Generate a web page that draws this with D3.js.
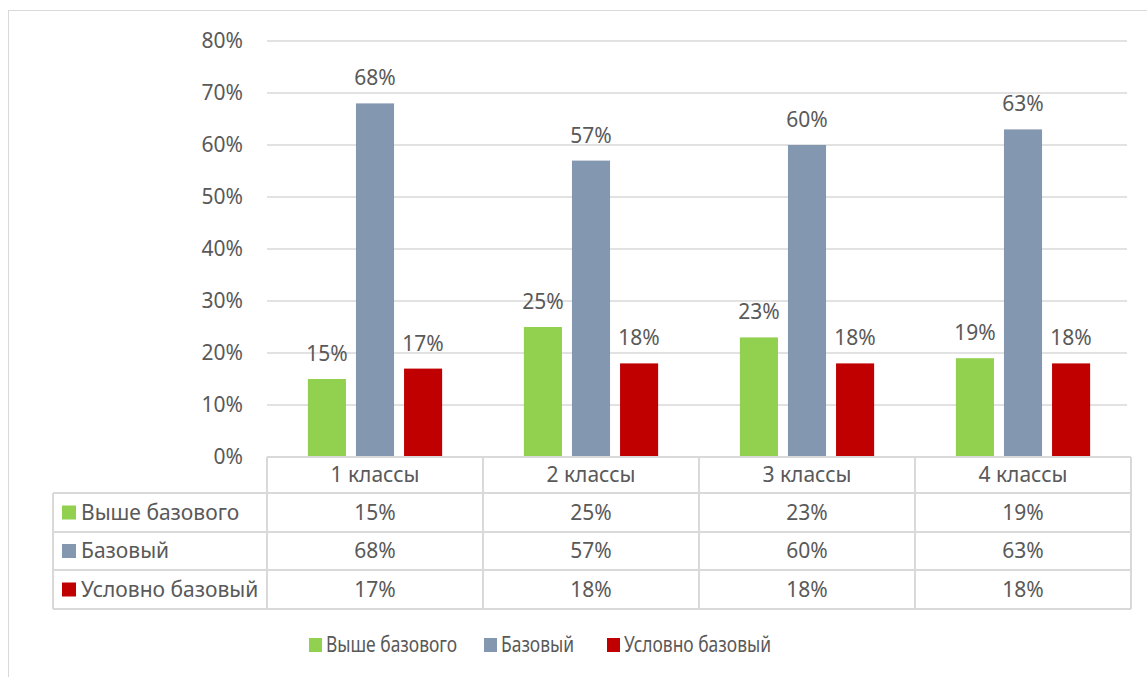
<!DOCTYPE html>
<html>
<head>
<meta charset="utf-8">
<script src="https://cdn.jsdelivr.net/npm/d3@7"></script>
<style>
  body { margin: 0; background: #fff; }
  text { font-family: "Noto Sans", "Open Sans", sans-serif; fill: #595959; }
</style>
</head>
<body>
<svg id="chart" width="1147" height="677"></svg>
<script>
// data
const categories = ["1 классы", "2 классы", "3 классы", "4 классы"];
const seriesNames = ["Выше базового", "Базовый", "Условно базовый"];
const seriesColors = ["#92D050", "#8497B0", "#C00000"];
const vyshe = [15, 25, 23, 19];
const bazovyi = [68, 57, 60, 63];
const uslovno = [17, 18, 18, 18];
const yTicks = [0, 10, 20, 30, 40, 50, 60, 70, 80];

const series = [vyshe, bazovyi, uslovno];
const fs = 21, tableFs = 21, legendFs = 21;

var svg = d3.select("#chart");

// outer chart frame
svg.append("rect")
  .attr("x", 8.5).attr("y", 10.5)
  .attr("width", 1160).attr("height", 700)
  .attr("fill", "none").attr("stroke", "#D9D9D9");

var plotLeft = 267, plotRight = 1131, plotTop = 41, plotBottom = 457;

var x = d3.scaleBand().domain(categories).range([plotLeft, plotRight]);
var xs = d3.scaleBand().domain(seriesNames).range([0, x.bandwidth()]).paddingInner(0.208).paddingOuter(0.85);
var y = d3.scaleLinear().domain([0, 80]).range([plotBottom, plotTop]);

// gridlines
svg.append("g").selectAll("line").data(yTicks).enter().append("line")
  .attr("x1", plotLeft).attr("x2", 1127)
  .attr("y1", d => y(d)).attr("y2", d => y(d))
  .attr("stroke", "#D9D9D9").attr("stroke-width", 1.3);

// y tick labels
svg.append("g").selectAll("text").data(yTicks).enter().append("text")
  .attr("x", 243).attr("y", d => y(d) + 7)
  .attr("text-anchor", "end").attr("font-size", fs)
  .text(d => d + "%");

// bars
series.forEach(function(vals, si) {
  var g = svg.append("g");
  g.selectAll("rect").data(vals).enter().append("rect")
    .attr("x", (d, i) => x(categories[i]) + xs(seriesNames[si]))
    .attr("y", d => y(d))
    .attr("width", xs.bandwidth())
    .attr("height", d => plotBottom - y(d))
    .attr("fill", seriesColors[si]);
  g.selectAll("text").data(vals).enter().append("text")
    .attr("x", (d, i) => x(categories[i]) + xs(seriesNames[si]) + xs.bandwidth() / 2)
    .attr("y", d => y(d) - 18)
    .attr("text-anchor", "middle").attr("font-size", fs)
    .text(d => d + "%");
});

// data table
var rowTop = [457, 493, 532, 570], rowBot = 609, tableLeft = 53;
var tg = svg.append("g").attr("stroke", "#D9D9D9").attr("stroke-width", 2);
tg.append("line").attr("x1", plotLeft).attr("x2", plotRight).attr("y1", rowTop[0]).attr("y2", rowTop[0]);
rowTop.slice(1).concat([rowBot]).forEach(function(yy) {
  tg.append("line").attr("x1", tableLeft).attr("x2", plotRight).attr("y1", yy).attr("y2", yy);
});
categories.forEach(function(c) {
  tg.append("line").attr("x1", x(c)).attr("x2", x(c)).attr("y1", rowTop[0]).attr("y2", rowBot);
});
tg.append("line").attr("x1", plotRight).attr("x2", plotRight).attr("y1", rowTop[0]).attr("y2", rowBot);
tg.append("line").attr("x1", tableLeft).attr("x2", tableLeft).attr("y1", rowTop[1]).attr("y2", rowBot);

// header labels
svg.append("g").selectAll("text").data(categories).enter().append("text")
  .attr("x", d => x(d) + x.bandwidth() / 2)
  .attr("y", (rowTop[0] + rowTop[1]) / 2 + 7)
  .attr("text-anchor", "middle").attr("font-size", tableFs)
  .text(d => d);

// table rows
series.forEach(function(vals, si) {
  var yTop = rowTop[si + 1], yB = si < 2 ? rowTop[si + 2] : rowBot;
  var cy = (yTop + yB) / 2;
  svg.append("rect").attr("x", 62).attr("y", cy - 7).attr("width", 14).attr("height", 14)
    .attr("fill", seriesColors[si]);
  svg.append("text").attr("x", 81).attr("y", cy + 7).attr("font-size", tableFs).text(seriesNames[si]);
  svg.append("g").selectAll("text").data(vals).enter().append("text")
    .attr("x", (d, i) => x(categories[i]) + x.bandwidth() / 2)
    .attr("y", cy + 7)
    .attr("text-anchor", "middle").attr("font-size", tableFs)
    .text(d => d + "%");
});

// bottom legend (text is a bit squeezed in the original)
var legendX = [309, 484, 607];
seriesNames.forEach(function(n, i) {
  svg.append("rect").attr("x", legendX[i]).attr("y", 638).attr("width", 13).attr("height", 14)
    .attr("fill", seriesColors[i]);
  svg.append("text")
    .attr("transform", "translate(" + (legendX[i] + 17) + ",652) scale(0.83,1)")
    .attr("font-size", legendFs).text(n);
});
</script>
</body>
</html>
